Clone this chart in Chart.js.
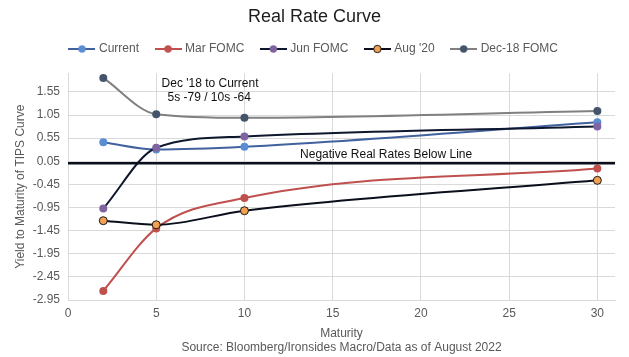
<!DOCTYPE html>
<html><head><meta charset="utf-8">
<script src="https://cdn.jsdelivr.net/npm/chart.js@4.4.1/dist/chart.umd.min.js"></script>
<style>html,body{margin:0;padding:0;background:#fff}</style>
</head><body>
<canvas id="c" width="629" height="357"></canvas>
<script>
// ---- data ----
const maturities = [2, 5, 10, 30];
const seriesNames = ["Current", "Mar FOMC", "Jun FOMC", "Aug '20", "Dec-18 FOMC"];
const current   = [0.48, 0.32, 0.38, 0.92];
const marFomc   = [-2.80, -1.42, -0.75, -0.10];
const junFomc   = [-0.98, 0.36, 0.61, 0.83];
const aug20     = [-1.25, -1.34, -1.03, -0.36];
const dec18Fomc = [1.90, 1.10, 1.02, 1.17];
const zeroLineX = [0, 31];
const zeroLineY = [0.02, 0.02];
const xTicks = [0, 5, 10, 15, 20, 25, 30];
const yTicks = [-2.95, -2.45, -1.95, -1.45, -0.95, -0.45, 0.05, 0.55, 1.05, 1.55];
const annText = ["Dec '18 to Current", "5s -79 / 10s -64", "Negative Real Rates Below Line"];
const annX = [8.05, 8.0, 18.03];
const annY = [1.72, 1.42, 0.20];

// ---- styles ----
const lineColors   = ['#41619f', '#c0504d', '#0e172e', '#0b0f1c', '#808080'];
const markerColors = ['#5b8dd3', '#c0504d', '#8064a2', '#f2a152', '#44546a'];
const markerBorders= ['#5b8dd3', '#c0504d', '#8064a2', '#1a1a1a', '#44546a'];
const allValues = [current, marFomc, junFomc, aug20, dec18Fomc];

function pts(xs, ys) { return xs.map((x, i) => ({x: x, y: ys[i]})); }

function legendImg(i) {
  const cv = document.createElement('canvas');
  cv.width = 27; cv.height = 10;
  const g = cv.getContext('2d');
  g.strokeStyle = lineColors[i]; g.lineWidth = 2;
  g.beginPath(); g.moveTo(0, 5); g.lineTo(27, 5); g.stroke();
  g.beginPath(); g.arc(13.5, 5, 3.7, 0, Math.PI * 2);
  g.fillStyle = markerColors[i]; g.fill();
  if (markerBorders[i] !== markerColors[i]) { g.lineWidth = 1; g.strokeStyle = markerBorders[i]; g.stroke(); }
  return cv;
}

const datasets = seriesNames.map((name, i) => ({
  label: name,
  data: pts(maturities, allValues[i]),
  borderColor: lineColors[i],
  backgroundColor: markerColors[i],
  pointBackgroundColor: markerColors[i],
  pointBorderColor: markerBorders[i],
  pointBorderWidth: markerBorders[i] !== markerColors[i] ? 1 : 0,
  pointRadius: 4,
  pointHoverRadius: 4,
  borderWidth: 2,
  cubicInterpolationMode: 'monotone',
  tension: 0.4,
  fill: false,
  order: 10 - i
}));
datasets.push({
  label: 'zero',
  data: pts(zeroLineX, zeroLineY),
  borderColor: '#0b0f1c',
  borderWidth: 2.5,
  pointRadius: 0,
  tension: 0,
  fill: false,
  order: 0
});

const annPlugin = {
  id: 'ann',
  afterDatasetsDraw(chart) {
    const {ctx, scales: {x, y}} = chart;
    ctx.save();
    ctx.font = "12px 'Liberation Sans', Arial, sans-serif";
    ctx.fillStyle = '#111';
    ctx.textAlign = 'center';
    ctx.textBaseline = 'middle';
    annText.forEach((t, i) => ctx.fillText(t, x.getPixelForValue(annX[i]), y.getPixelForValue(annY[i])));
    ctx.restore();
  }
};

Chart.defaults.font.family = "'Liberation Sans', Arial, sans-serif";
Chart.defaults.font.size = 12;
Chart.defaults.color = '#595959';

new Chart(document.getElementById('c'), {
  type: 'line',
  data: { datasets },
  plugins: [annPlugin],
  options: {
    responsive: false,
    animation: false,
    devicePixelRatio: 1,
    layout: { padding: 0 },
    plugins: {
      title: {
        display: true, text: 'Real Rate Curve', color: '#1e1e1e',
        font: { size: 18, weight: 'normal' }, padding: { top: 6, bottom: -2.6 }
      },
      legend: {
        display: true, position: 'top',
        labels: {
          usePointStyle: true, pointStyleWidth: 22, boxHeight: 12, padding: 18,
          color: '#595959', font: { size: 12 },
          generateLabels(chart) {
            return seriesNames.map((n, i) => ({
              text: n, pointStyle: legendImg(i), datasetIndex: i,
              hidden: false, lineWidth: 0, fillStyle: markerColors[i], strokeStyle: lineColors[i], fontColor: '#595959'
            }));
          }
        }
      },
      tooltip: { enabled: false }
    },
    scales: {
      x: {
        type: 'linear', min: 0, max: 31,
        afterBuildTicks(s) { s.ticks = xTicks.map(v => ({value: v})); },
        afterFit(s) { s.height = 57; },
        grid: { color: '#d9d9d9', drawTicks: false },
        border: { color: '#d9d9d9' },
        ticks: { padding: 6, color: '#595959', font: { size: 12 }, maxRotation: 0 },
        title: {
          display: true, text: ['Maturity', 'Source: Bloomberg/Ironsides Macro/Data as of August 2022'],
          color: '#595959', font: { size: 12 }, padding: { top: 3, bottom: 2 }
        }
      },
      xTop: {
        type: 'linear', position: 'top', display: true,
        grid: { display: false }, border: { display: false }, ticks: { display: false },
        afterFit(s) { s.height = 8.4; }
      },
      yRight: {
        type: 'linear', position: 'right', display: true,
        grid: { display: false }, border: { display: false }, ticks: { display: false },
        afterFit(s) { s.width = 14; }
      },
      y: {
        type: 'linear', min: -2.95, max: 1.95,
        afterBuildTicks(s) { s.ticks = yTicks.map(v => ({value: v})); },
        afterFit(s) { s.width = 68; },
        grid: { color: '#d9d9d9', drawTicks: false },
        border: { color: '#d9d9d9' },
        ticks: { padding: 8, color: '#595959', font: { size: 12 }, callback: v => Number(v).toFixed(2) },
        title: {
          display: true, text: 'Yield to Maturity of TIPS Curve',
          color: '#595959', font: { size: 12 }, padding: { top: 13, bottom: 0 }
        }
      }
    }
  }
});
</script>
</body></html>
